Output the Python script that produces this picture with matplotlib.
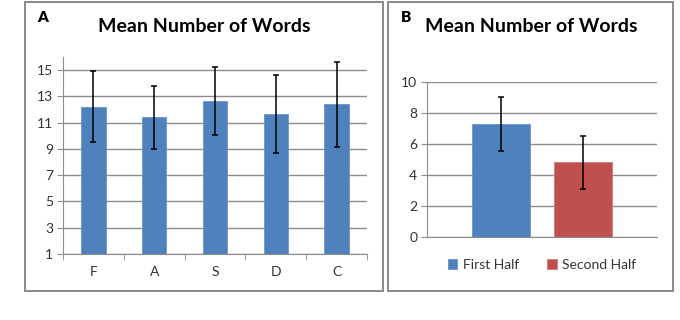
import numpy as np
import matplotlib.pyplot as plt
from matplotlib.patches import Rectangle

# panel A data
cats_a = ['F', 'A', 'S', 'D', 'C']
means_a = [12.2, 11.4, 12.65, 11.65, 12.4]
err_a = [2.7, 2.4, 2.57, 2.97, 3.25]

# panel B data
halves = ['First Half', 'Second Half']
means_b = [7.3, 4.82]
err_b = [1.75, 1.7]

blue = '#4F81BD'
red = '#C0504D'
grid_c = '#8c8c8c'
txt_c = '#333333'

plt.rcParams['font.family'] = ['Lato', 'DejaVu Sans']

fig = plt.figure(figsize=(6.8, 3.2), dpi=100)

# panel frames
for x0, w in [(25 / 680, 358 / 680), (388 / 680, 285 / 680)]:
    fig.patches.append(Rectangle((x0, 1 - 291 / 320), w, 289 / 320,
                                 transform=fig.transFigure, fill=False,
                                 edgecolor='#8a8a8a', linewidth=1.4))

# ---- panel A ----
ax = fig.add_axes([63 / 680, 1 - 254 / 320, 304 / 680, 197 / 320])
x = np.arange(len(cats_a))
ax.bar(x, [m - 1 for m in means_a], bottom=1, width=0.4, color=blue,
       edgecolor='#6a95c9', linewidth=0.6, zorder=2)
ax.errorbar(x, means_a, yerr=err_a, fmt='none', ecolor='black',
            elinewidth=1.1, capsize=2.5, capthick=1.1, zorder=3)
ax.set_xlim(-0.5, 4.5)
ax.set_ylim(1, 16)
ax.set_yticks(range(1, 16, 2))
ax.set_xticks(x)
ax.set_xticklabels(cats_a)
ax.set_xticks(np.arange(-0.5, 5, 1), minor=True)
ax.tick_params(axis='x', which='major', length=0, pad=9, labelsize=10, colors=txt_c)
ax.tick_params(axis='x', which='minor', length=4, color=grid_c)
ax.tick_params(axis='y', length=4, color=grid_c, labelsize=10, colors=txt_c, pad=3)
ax.yaxis.grid(True, color=grid_c, linewidth=1, zorder=0)
ax.set_axisbelow(True)
for s in ['top', 'right']:
    ax.spines[s].set_visible(False)
for s in ['left', 'bottom']:
    ax.spines[s].set_color(grid_c)
fig.text(204 / 680, 1 - 26 / 320, 'Mean Number of Words', fontsize=14,
         fontweight='bold', ha='center', va='center')
fig.text(37 / 680, 1 - 18 / 320, 'A', fontsize=11, fontweight='heavy', va='center')

# ---- panel B ----
bx = fig.add_axes([427 / 680, 1 - 237 / 320, 230 / 680, 155 / 320])
xb = np.arange(len(halves))
bars = bx.bar(xb, means_b, width=0.7, color=[blue, red],
              edgecolor=['#6a95c9', '#cf7a78'], linewidth=0.6, zorder=2)
bx.errorbar(xb, means_b, yerr=err_b, fmt='none', ecolor='black',
            elinewidth=1.1, capsize=2.5, capthick=1.1, zorder=3)
bx.set_xlim(-0.89, 1.89)
bx.set_ylim(0, 10)
bx.set_yticks(range(0, 11, 2))
bx.set_xticks([])
bx.tick_params(axis='y', length=4, color=grid_c, labelsize=10, colors=txt_c, pad=3)
bx.yaxis.grid(True, color=grid_c, linewidth=1, zorder=0)
bx.set_axisbelow(True)
for s in ['top', 'right']:
    bx.spines[s].set_visible(False)
for s in ['left', 'bottom']:
    bx.spines[s].set_color(grid_c)
fig.text(531 / 680, 1 - 26 / 320, 'Mean Number of Words', fontsize=14,
         fontweight='bold', ha='center', va='center')
fig.text(401 / 680, 1 - 18 / 320, 'B', fontsize=11, fontweight='heavy', va='center')
bx.legend(bars, halves, loc='upper center', bbox_to_anchor=(0.5, -0.06),
          ncol=2, frameon=False, fontsize=10, handlelength=0.7,
          handleheight=0.7, columnspacing=2.0, handletextpad=0.4,
          labelcolor=txt_c)

fig.savefig('out.png', dpi=100)
